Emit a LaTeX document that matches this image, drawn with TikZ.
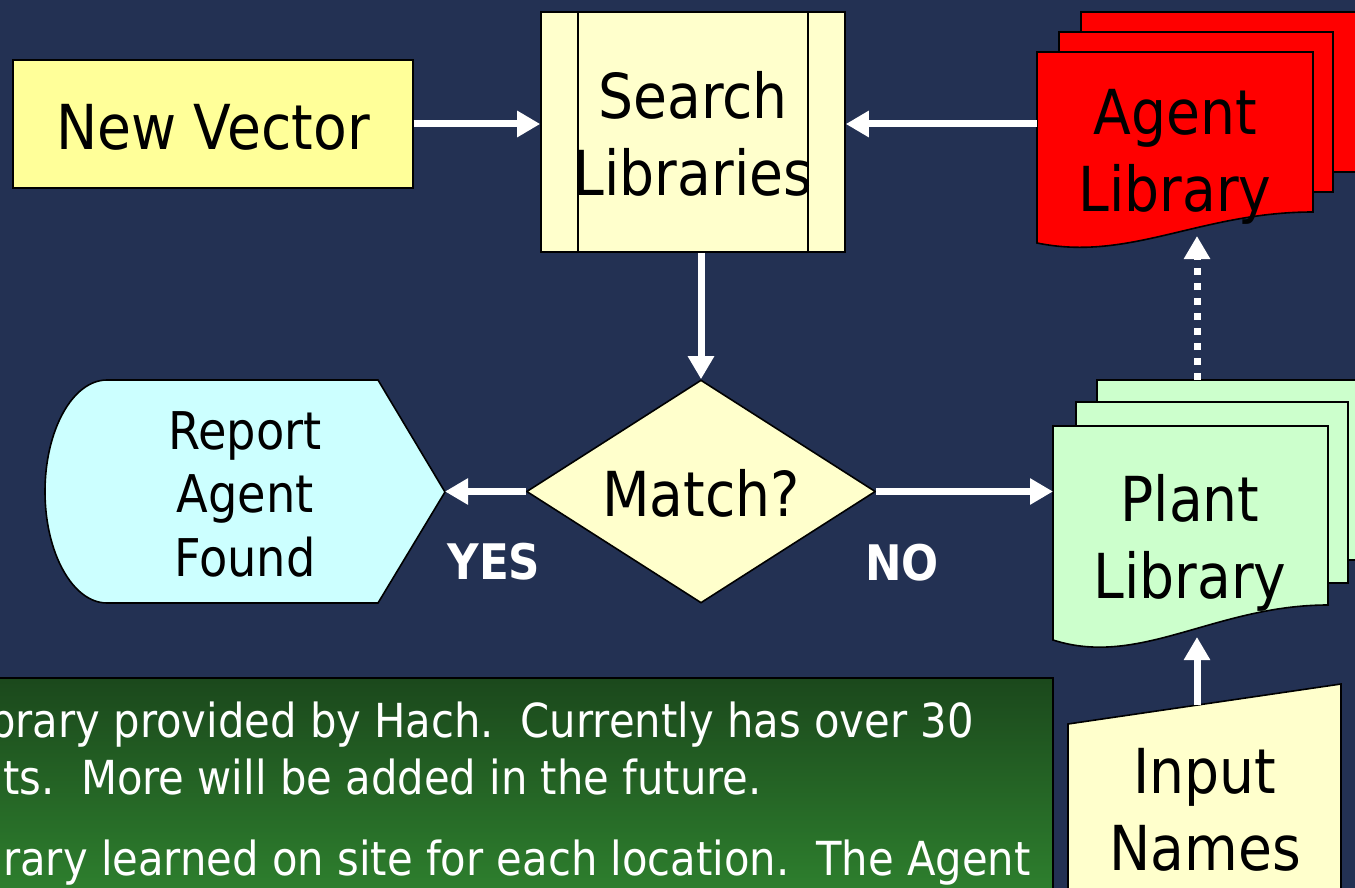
\documentclass[tikz,border=0pt]{standalone}
\usepackage{fontspec}
\setmainfont[FakeStretch=0.89]{DejaVu Sans}
\usetikzlibrary{arrows.meta,shapes.geometric}
\definecolor{bgc}{RGB}{35,49,83}
\definecolor{nvfill}{RGB}{255,255,153}
\definecolor{lyel}{RGB}{255,255,204}
\definecolor{lcyan}{RGB}{204,255,255}
\definecolor{lgreen}{RGB}{204,255,204}
\definecolor{gtop}{RGB}{27,72,28}
\definecolor{gbot}{RGB}{46,128,46}
\newcommand\bigf{\fontsize{62}{77}\selectfont}
\newcommand\midf{\fontsize{52}{63.5}\selectfont}
\newcommand\smf{\fontsize{46.9}{54}\selectfont}
\begin{document}
\begin{tikzpicture}[x=1pt,y=-1pt,
  shp/.style={draw=black, line width=1.6pt},
  lbl/.style={align=center, inner sep=0pt, text=black, font=\bigf},
  arr/.style={draw=white, line width=7pt, -{Triangle[length=23pt,width=25pt]}},
  darr/.style={arr, dash pattern=on 7pt off 8pt},
  yn/.style={text=white, font=\fontsize{49}{54}\selectfont\bfseries, anchor=base, inner sep=0pt},
  note/.style={text=white, font=\smf, anchor=base west, inner sep=0pt}]
\fill[bgc] (0,0) rectangle (1355,888);
\useasboundingbox (0,0) rectangle (1355,888);
\begin{scope}
\clip (0,0) rectangle (1355,888);
% green note box
\shade[top color=gtop, bottom color=gbot] (-5,678) rectangle (1053,895);
\draw[black, line width=1.6pt] (-5,678) -- (1053,678) -- (1053,895);
\node[note] (n1) at (-11,737) {brary provided by Hach.\ \ Currently has over 30};
\node[note] (n2) at (3,794) {ts.\ \ More will be added in the future.};
\node[note] (n3) at (3,875) {rary learned on site for each location.\ \ The Agent};

% New Vector
\node[shp, fill=nvfill, minimum width=400pt, minimum height=128pt, inner sep=0pt] (nv) at (213,124) {};
\node[lbl] (nvt) at (213,127) {New Vector};

% Search Libraries
\node[shp, fill=lyel, minimum width=304pt, minimum height=240pt, inner sep=0pt] (search) at (693,132) {};
\draw[shp] ([xshift=38pt]search.north west) -- ([xshift=38pt]search.south west);
\draw[shp] ([xshift=-38pt]search.north east) -- ([xshift=-38pt]search.south east);
\node[lbl] (searcht) at (693,134) {Search\\Libraries};

% Agent Library (multi-document)
\path[shp, fill=red] (1081,12) rectangle (1370,172);
\path[shp, fill=red] (1059,32) rectangle (1333,192);
\path[shp, fill=red] (1037,52) -- (1313,52) -- (1313,212)
   .. controls (1200,212) and (1130,262) .. (1037,243) -- cycle;
\node[lbl] (agent) at (1175,157) {Agent\\Library};
\coordinate (agentW) at (1037,124);
\coordinate (agentS) at (1197,236);

% Match diamond
\node[shp, diamond, aspect=1.565, fill=lyel, minimum width=349pt, minimum height=223pt, inner sep=0pt] (match) at (701,491.5) {};
\node[lbl] (matcht) at (701,493) {Match?};

% Report Agent Found (display)
\path[shp, fill=lcyan] (107,380) -- (378,380) -- (445,492) -- (378,603) -- (107,603)
   .. controls (72.8,603) and (45,553) .. (45,491.5)
   .. controls (45,430) and (72.8,380) .. (107,380) -- cycle;
\node[lbl, font=\midf] (report) at (245,494) {Report\\Agent\\Found};
\coordinate (reportE) at (445,491.5);

% Plant Library (multi-document)
\path[shp, fill=lgreen] (1097,380) rectangle (1370,560);
\path[shp, fill=lgreen] (1076,402) rectangle (1348,583);
\path[shp, fill=lgreen] (1053,426) -- (1328,426) -- (1328,605)
   .. controls (1215,605) and (1140,668) .. (1053,640) -- cycle;
\node[lbl] (plant) at (1190,543) {Plant\\Library};
\coordinate (plantW) at (1053,491.5);
\coordinate (plantN) at (1197,380);
\coordinate (plantS) at (1197,637);

% Input Names (manual input)
\path[shp, fill=lyel] (1068,724) -- (1341,684) -- (1341,900) -- (1068,900) -- cycle;
\node[lbl] (input) at (1205,810) {Input\\Names};
\coordinate (inputN) at (1197,705);
\end{scope}

% connectors
\draw[arr] (nv.east) -- (nv.east -| search.west);
\draw[arr] (agentW) -- (agentW -| search.east);
\draw[arr] (match.north |- search.south) -- (match.north);
\draw[arr] (match.west) -- (reportE);
\draw[arr] (match.east) -- (plantW);
\draw[darr] (plantN) -- (agentS);
\draw[arr] (inputN) -- (plantS);

\node[yn] (yes) at (494,579) {YES};
\node[yn] (no) at (902,580) {NO};
\end{tikzpicture}
\end{document}
